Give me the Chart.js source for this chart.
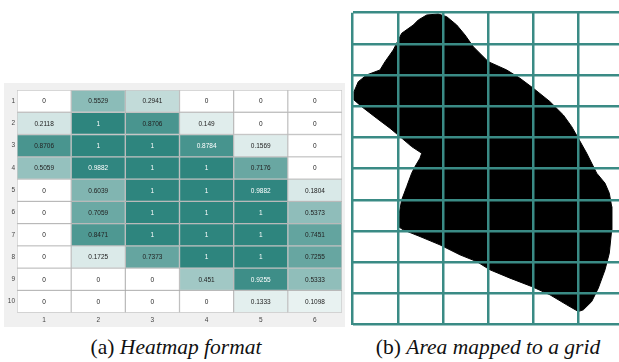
<!DOCTYPE html>
<html>
<head>
<meta charset="utf-8">
<script src="https://cdn.jsdelivr.net/npm/chart.js@4.4.1/dist/chart.umd.min.js"></script>
<style>
  html, body { margin: 0; padding: 0; background: #fff; }
  body { width: 619px; height: 362px; overflow: hidden; position: relative; }
  #panelA { position: absolute; left: 4px; top: 83px; width: 341px; height: 244px; background: #f0f0f0; }
  #heatWrap { position: absolute; left: 4px; top: 83px; width: 341px; height: 244px; }
  #gridWrap { position: absolute; left: 350px; top: 10px; width: 280px; height: 320px; }
  .cap { position: absolute; top: 334px; font-family: "Liberation Serif", "Times New Roman", serif; font-size: 21.5px;
         line-height: 26px; white-space: nowrap; transform: translateX(-50%); color: #111; }
  .cap i { font-style: italic; }
</style>
</head>
<body>
<div id="panelA"></div>
<div id="heatWrap"><canvas id="heat"></canvas></div>
<div id="gridWrap"><canvas id="grid"></canvas></div>
<div class="cap" style="left:176px">(a) <i>Heatmap format</i></div>
<div class="cap" style="left:488px">(b) <i>Area mapped to a grid</i></div>

<script>
// Heatmap: share of each grid cell covered by the area (rows top to bottom)
const rowLabels = ['1', '2', '3', '4', '5', '6', '7', '8', '9', '10'];
const colLabels = ['1', '2', '3', '4', '5', '6'];
const heatValues = [
  [0, 0.5529, 0.2941, 0, 0, 0],
  [0.2118, 1, 0.8706, 0.149, 0, 0],
  [0.8706, 1, 1, 0.8784, 0.1569, 0],
  [0.5059, 0.9882, 1, 1, 0.7176, 0],
  [0, 0.6039, 1, 1, 0.9882, 0.1804],
  [0, 0.7059, 1, 1, 1, 0.5373],
  [0, 0.8471, 1, 1, 1, 0.7451],
  [0, 0.1725, 0.7373, 1, 1, 0.7255],
  [0, 0, 0, 0.451, 0.9255, 0.5333],
  [0, 0, 0, 0, 0.1333, 0.1098]
];

// Outline of the area, in grid units (column, row from the top)
const outlineX = [1.637, 1.894, 2.080, 2.301, 2.485, 2.668, 3.000, 3.407, 3.701, 3.996,
  4.365, 4.659, 4.845, 4.991, 5.177, 5.398, 5.582, 5.677, 5.730, 5.730,
  5.677, 5.582, 5.434, 5.288, 5.102, 4.991, 4.735, 4.365, 3.960, 3.480,
  3.038, 2.743, 2.374, 1.931, 1.489, 1.119, 1.009, 1.031, 1.084, 1.195,
  1.305, 1.378, 1.489, 1.527, 1.305, 1.046, 0.825, 0.531, 0.199, 0.029,
  0.029, 0.124, 0.310, 0.604, 0.715, 0.898, 1.009, 1.084, 1.341, 1.451];
const outlineY = [0.074, 0.042, 0.128, 0.394, 0.715, 1.090, 1.571, 1.837, 2.103, 2.423,
  2.853, 3.279, 3.654, 4.026, 4.506, 5.147, 5.468, 5.788, 6.218, 6.965,
  7.712, 8.247, 8.833, 9.263, 9.529, 9.583, 9.369, 9.048, 8.782, 8.513,
  8.247, 7.981, 7.766, 7.446, 7.179, 6.965, 6.859, 6.429, 6.003, 5.577,
  5.147, 4.936, 4.667, 4.506, 4.295, 3.974, 3.705, 3.385, 3.013, 2.798,
  2.532, 2.212, 1.997, 1.837, 1.571, 1.196, 0.875, 0.660, 0.394, 0.234];

// white -> teal colour ramp
function cellColor(v) {
  const lo = [255, 255, 255], hi = [46, 133, 126];
  const c = lo.map((l, k) => Math.round(l + (hi[k] - l) * v));
  return `rgb(${c[0]},${c[1]},${c[2]})`;
}

const cellText = {
  id: 'cellText',
  afterDatasetsDraw(chart) {
    const ctx = chart.ctx;
    ctx.save();
    ctx.font = '6.5px "Liberation Sans", Arial, sans-serif';
    ctx.textAlign = 'center';
    ctx.textBaseline = 'middle';
    chart.data.datasets.forEach((ds, j) => {
      chart.getDatasetMeta(j).data.forEach((bar, i) => {
        const v = heatValues[i][j];
        const p = bar.getProps(['x', 'y', 'base'], true);
        ctx.fillStyle = v > 0.875 ? '#ffffff' : '#222222';
        ctx.fillText(String(v), (p.x + p.base) / 2, p.y + 0.5);
      });
    });
    ctx.restore();
  }
};

const tickFont = { size: 6.5, family: '"Liberation Sans", Arial, sans-serif' };

new Chart(document.getElementById('heat'), {
  type: 'bar',
  data: {
    labels: rowLabels,
    datasets: colLabels.map((c, j) => ({
      label: c,
      data: rowLabels.map(() => [j + 0.5, j + 1.5]),
      backgroundColor: ctx => cellColor(heatValues[ctx.dataIndex][j]),
      borderColor: 'rgba(100,100,100,0.28)',
      borderWidth: 1,
      borderSkipped: false,
      grouped: false,
      barPercentage: 1,
      categoryPercentage: 1
    }))
  },
  options: {
    indexAxis: 'y',
    responsive: true,
    maintainAspectRatio: false,
    animation: false,
    layout: { padding: { top: 7, right: 3, left: 0, bottom: 0 } },
    plugins: { legend: { display: false }, tooltip: { enabled: false } },
    scales: {
      x: {
        type: 'linear', min: 0.5, max: 6.5,
        afterBuildTicks: s => { s.ticks = colLabels.map((c, j) => ({ value: j + 1 })); },
        afterFit: s => { s.height = 14.3; },
        grid: { display: false, drawTicks: false },
        border: { display: false },
        ticks: {
          callback: (v) => colLabels[v - 1],
          font: tickFont, color: '#444', padding: 4, maxRotation: 0
        }
      },
      y: {
        afterFit: s => { s.width = 13; },
        grid: { display: false, drawTicks: false },
        border: { display: false },
        ticks: { font: tickFont, color: '#444', padding: 2 }
      }
    }
  },
  plugins: [cellText]
});

const shapePoints = outlineX.map((x, i) => ({ x, y: outlineY[i] }));
shapePoints.push(shapePoints[0]);

new Chart(document.getElementById('grid'), {
  type: 'line',
  data: {
    datasets: [{
      data: shapePoints,
      borderColor: '#000',
      backgroundColor: '#000',
      borderWidth: 1,
      pointRadius: 0,
      tension: 0,
      fill: 'shape'
    }]
  },
  options: {
    responsive: true,
    maintainAspectRatio: false,
    animation: false,
    layout: { padding: { left: 2.7, top: 2.7, right: 6.1, bottom: 5.5 } },
    plugins: { legend: { display: false }, tooltip: { enabled: false } },
    scales: {
      x: {
        type: 'linear', min: 0, max: 6,
        afterFit: s => { s.height = 0; },
        ticks: { display: false, stepSize: 1 },
        border: { display: false },
        grid: { color: '#3a8b85', lineWidth: 2.5, drawTicks: false, z: 1 }
      },
      y: {
        type: 'linear', min: 0, max: 10, reverse: true,
        afterFit: s => { s.width = 0; },
        ticks: { display: false, stepSize: 1 },
        border: { display: false },
        grid: { color: '#3a8b85', lineWidth: 2.5, drawTicks: false, z: 1 }
      }
    }
  }
});
</script>
</body>
</html>
